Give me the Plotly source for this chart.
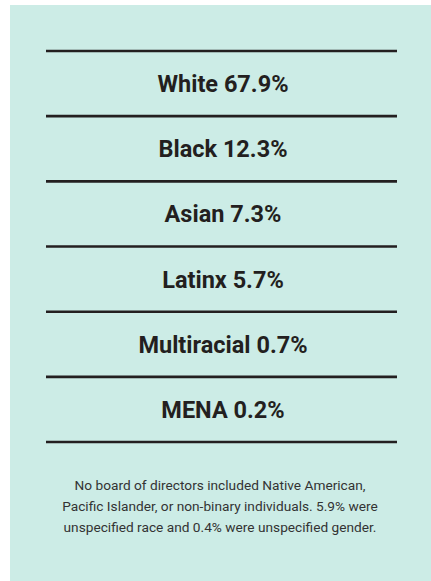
import plotly.graph_objects as go

# Data
categories = ["White", "Black", "Asian", "Latinx", "Multiracial", "MENA"]
shares = [67.9, 12.3, 7.3, 5.7, 0.7, 0.2]
footnote_lines = [
    "No board of directors included Native American,",
    "Pacific Islander, or non-binary individuals. 5.9% were",
    "unspecified race and 0.4% were unspecified gender.",
]

W, H = 431, 581
BG = "#CCECE6"
INK = "#231F20"

n = len(categories)
row_px = 65.17
top_px = 51

fig = go.Figure()

# separator lines (row boundaries 0..n)
lx, ly = [], []
for k in range(n + 1):
    lx += [46, 397, None]
    ly += [k, k, None]
fig.add_trace(go.Scatter(x=lx, y=ly, mode="lines",
                         line=dict(color=INK, width=2.6),
                         hoverinfo="skip", showlegend=False))

# labels
labels = [f"{c} {v:.1f}%" for c, v in zip(categories, shares)]
fig.add_trace(go.Scatter(
    x=[223] * n, y=[i + 0.54 for i in range(n)], mode="text", text=labels,
    textfont=dict(family="Roboto", size=23.5, color=INK, weight=700),
    textposition="middle center", hoverinfo="skip", showlegend=False))

# footnote, one line per text point
fn_y = [(487 + 21 * j - top_px) / row_px for j in range(len(footnote_lines))]
fig.add_trace(go.Scatter(
    x=[220] * len(footnote_lines), y=fn_y, mode="text", text=footnote_lines,
    textfont=dict(family="Roboto", size=13.7, color="#333333"),
    textposition="middle center", hoverinfo="skip", showlegend=False))

fig.add_shape(type="rect", xref="paper", yref="paper",
              x0=10 / W, x1=1.01, y0=-0.01, y1=(H - 5) / H,
              fillcolor=BG, line=dict(width=0), layer="below")

fig.update_layout(
    width=W, height=H, margin=dict(l=0, r=0, t=0, b=0),
    paper_bgcolor="white", plot_bgcolor="rgba(0,0,0,0)",
    xaxis=dict(range=[0, W], visible=False, fixedrange=True),
    yaxis=dict(range=[(H - top_px) / row_px, -top_px / row_px],
               visible=False, fixedrange=True),
)

fig.write_html("out.html",
               config={"displayModeBar": False},
               post_script="document.body.style.margin='0';"
                           "document.body.style.overflow='hidden';")
